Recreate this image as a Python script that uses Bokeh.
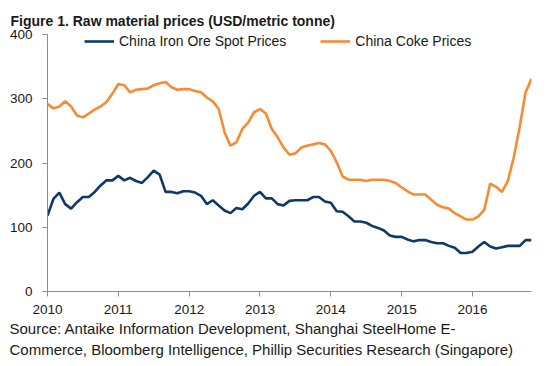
from bokeh.plotting import figure
from bokeh.models import Range1d, FixedTicker, Legend, LegendItem, ColumnDataSource, Title
from bokeh.embed import file_html
from bokeh.resources import INLINE

start_year = 2010
iron_ore = [
    118, 144, 154, 136, 129, 139, 147, 147, 155, 165, 173, 173,
    180, 173, 177, 172, 169, 178, 188, 182, 155, 155, 153, 156,
    156, 154, 149, 136, 142, 134, 126, 122, 130, 128, 137, 149,
    155, 145, 145, 136, 134, 141, 142, 142, 142, 147, 147, 140,
    138, 125, 124, 117, 109, 109, 107, 102, 99, 95, 87, 85,
    85, 81, 78, 80, 80, 77, 75, 75, 71, 68, 60, 60,
    62, 70, 77, 70, 67, 69, 71, 71, 71, 80, 80,
]
coke = [
    292, 285, 288, 296, 288, 274, 271, 277, 283, 288, 295, 308,
    323, 321, 310, 314, 315, 316, 321, 324, 326, 318, 314, 315,
    315, 312, 310, 302, 296, 284, 248, 227, 232, 253, 263, 279,
    284, 277, 253, 240, 224, 213, 215, 224, 227, 229, 231, 229,
    219, 201, 179, 174, 174, 174, 172, 174, 174, 174, 172, 169,
    162, 156, 151, 151, 151, 143, 135, 131, 129, 122, 117, 112,
    112, 117, 127, 168, 163, 155, 172, 209, 256, 310, 331,
]
year_ticks = [2010, 2011, 2012, 2013, 2014, 2015, 2016]
y_ticks = [0, 100, 200, 300, 400]

months = [start_year + i / 12 for i in range(len(iron_ore))]
src = ColumnDataSource(dict(x=months, iron=iron_ore, coke=coke))

FONT = "Liberation Sans"
AXIS_COL = "#8c8c8c"
TXT = "#1a1a1a"

p = figure(width=546, height=366, output_backend="svg", toolbar_location=None,
           x_range=Range1d(start_year, months[-1]), y_range=Range1d(0, 400),
           min_border_left=47, min_border_right=15, min_border_top=34, min_border_bottom=75)
p.outline_line_color = None
p.grid.grid_line_color = None

r1 = p.line("x", "iron", source=src, line_color="#0d3a6b", line_width=2.6)
r2 = p.line("x", "coke", source=src, line_color="#f68b33", line_width=2.6)

for ax in (p.xaxis[0], p.yaxis[0]):
    ax.axis_line_color = AXIS_COL
    ax.major_tick_line_color = AXIS_COL
    ax.minor_tick_line_color = None
    ax.major_tick_in = 0
    ax.major_tick_out = 5
    ax.major_label_text_font = FONT
    ax.major_label_text_font_size = "13.5px"
    ax.major_label_text_color = TXT
p.xaxis.ticker = FixedTicker(ticks=year_ticks)
p.yaxis.ticker = FixedTicker(ticks=y_ticks)
p.xaxis.major_label_standoff = 8
p.yaxis.major_label_standoff = 10

legend = Legend(items=[LegendItem(label="China Iron Ore Spot Prices", renderers=[r1]),
                       LegendItem(label="China Coke Prices", renderers=[r2])],
                orientation="horizontal", location=(37, 240))
legend.border_line_color = None
legend.background_fill_alpha = 0
legend.padding = 0
legend.margin = 0
legend.spacing = 34
legend.glyph_width = 30
legend.label_standoff = 5
legend.label_text_font = FONT
legend.label_text_font_size = "14px"
legend.label_text_color = TXT
p.add_layout(legend, "center")

spacer = Title(text=" ", text_font_size="2px", standoff=2)
p.add_layout(spacer, "above")
title = Title(text="Figure 1. Raw material prices (USD/metric tonne)", align="left",
              offset=-37, text_font=FONT, text_font_size="14px", text_font_style="bold",
              text_color=TXT, standoff=0)
p.add_layout(title, "above")

src1 = Title(text="Source: Antaike Information Development, Shanghai SteelHome E-",
             align="left", offset=-38, text_font=FONT, text_font_size="15px",
             text_font_style="normal", text_color=TXT, standoff=2)
src2 = Title(text="Commerce, Bloomberg Intelligence, Phillip Securities Research (Singapore)",
             align="left", offset=-38, text_font=FONT, text_font_size="15px",
             text_font_style="normal", text_color=TXT, standoff=2)
p.add_layout(src1, "below")
p.add_layout(src2, "below")

open("out.html", "w").write(file_html(p, INLINE))
